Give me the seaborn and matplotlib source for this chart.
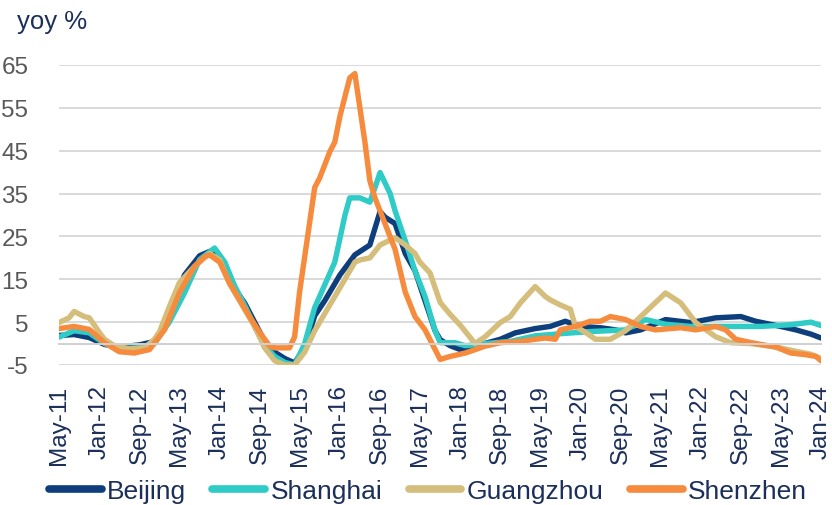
import matplotlib
matplotlib.use("Agg")
import matplotlib.pyplot as plt
import numpy as np
import pandas as pd
import seaborn as sns

# Year-on-year new home price growth, first-tier cities (month offset from May-2011, yoy %)
beijing_months = [0, 3, 6, 9, 12, 16, 19, 22, 25, 28, 30, 32, 34, 37, 39, 41, 43, 45, 47, 49,
                  51, 53, 56, 59, 62, 64, 65, 67, 69, 71, 73, 75, 76, 78, 80, 83, 88, 91, 95, 98,
                  101, 104, 108, 111, 113, 116, 121, 126, 131, 136, 139, 144, 147, 150, 152]
beijing_values = [1.9, 2.1, 1.4, -0.2, -0.8, -0.3, 0.5, 6, 16, 20.5, 21.5, 20, 14.5, 9.5, 5, 0.5, -2, -3.5, -4.5, -1,
                  6.5, 10, 16, 20.7, 23, 30.8, 29.5, 28, 21, 17, 10, 3, 0.9, -0.5, -1.4, -0.6, 1, 2.5, 3.5, 4,
                  5.2, 4, 3.7, 3.2, 2.5, 3.2, 5.6, 4.9, 6, 6.3, 5.2, 4, 3.2, 2.2, 1.3]

shanghai_months = [0, 3, 6, 9, 12, 16, 19, 22, 25, 28, 31, 33, 35, 37, 39, 41, 43, 45, 47, 49,
                   51, 55, 57, 58, 60, 62, 63, 64, 66, 67, 69, 71, 73, 75, 76, 79, 81, 85, 90, 95,
                   100, 106, 113, 117, 121, 126, 131, 140, 146, 150, 152]
shanghai_values = [1.5, 3, 2.5, 0, -1.2, -1, 0, 5, 11.8, 19.6, 22.3, 19, 13.5, 9, 4, -0.5, -3, -4.4, -5, 0,
                   8.4, 19, 30, 34, 34, 33, 36.4, 39.9, 35, 31, 24, 17, 11, 3, 0.2, 0.2, -0.5, 0, 0.5, 1.8,
                   2.3, 2.8, 3.2, 5.6, 4.5, 4, 4, 4, 4.4, 5, 4.2]

guangzhou_months = [0, 2, 3, 5, 6, 8, 9, 11, 14, 17, 19, 20, 22, 24, 27, 30, 32, 34, 37, 39,
                    41, 43, 45, 47, 49, 51, 53, 56, 59, 60, 62, 64, 67, 69, 71, 72, 74, 76, 78, 80,
                    83, 85, 88, 90, 92, 95, 97, 98, 100, 102, 103, 105, 107, 110, 113, 116, 121, 124,
                    127, 131, 134, 138, 143, 147, 150, 152]
guangzhou_values = [4.9, 6, 7.5, 6.3, 6, 2.6, 1, -0.5, -1.2, -1, 1, 2.8, 8.6, 14.2, 18, 21, 19.5, 14, 8, 4,
                    -1, -4, -5, -5, -2, 3, 7, 13, 19, 19.5, 20, 23, 24.7, 23, 21, 19, 16.5, 9.6, 6.8, 4.3,
                    0, 1.6, 4.9, 6.3, 9.5, 13.3, 11, 10.2, 9, 8, 4, 2.6, 1, 1, 3, 6.3, 11.8, 9.5,
                    4.9, 1.6, 0.2, 0, -0.8, -1.8, -2.5, -3.5]

shenzhen_months = [0, 3, 6, 9, 12, 15, 18, 21, 24, 27, 29, 30, 32, 34, 36, 38, 40, 42, 43, 46,
                   47, 48, 51, 52, 54, 55, 56, 58, 59, 61, 62, 63, 65, 67, 69, 71, 73, 76, 78, 81,
                   85, 88, 92, 95, 97, 99, 100, 103, 106, 108, 110, 113, 116, 119, 124, 127, 131, 133,
                   135, 139, 143, 146, 149, 151, 152]
shenzhen_values = [3.5, 4, 3.3, 0.2, -1.9, -2.2, -1.4, 3.3, 11.8, 18, 20.3, 20.7, 19, 14.2, 10.3, 6.3, 2.6, -0.6, -1, -1,
                   1.6, 12, 36.4, 38.7, 44.8, 47, 53, 62, 63, 47, 38, 34, 28, 22, 12, 6.3, 3.2, -3.7, -3, -2.2,
                   -0.6, 0.2, 0.5, 1, 1.3, 1, 3.2, 4, 5.2, 5.2, 6.3, 5.6, 4, 3.2, 3.7, 3.2, 4, 3.2,
                   1, 0, -0.8, -2.2, -2.6, -3, -4]

city_names = ["Beijing", "Shanghai", "Guangzhou", "Shenzhen"]
city_colors = ["#0E3F7C", "#2ECBC7", "#D5BD7B", "#F68B3D"]

y_ticks = [-5, 5, 15, 25, 35, 45, 55, 65]
x_tick_step = 8  # months between date labels

start = pd.Timestamp("2011-05-01")
end = pd.Timestamp("2024-01-01")


def to_dates(offsets):
    return [start + pd.DateOffset(months=int(m)) for m in offsets]


frames = []
for name, months, values in [
    ("Beijing", beijing_months, beijing_values),
    ("Shanghai", shanghai_months, shanghai_values),
    ("Guangzhou", guangzhou_months, guangzhou_values),
    ("Shenzhen", shenzhen_months, shenzhen_values),
]:
    frames.append(pd.DataFrame({"date": to_dates(months), "yoy": values, "city": name}))
df = pd.concat(frames, ignore_index=True)

sns.set_theme(style="white")
plt.rcParams["font.family"] = ["Liberation Sans", "DejaVu Sans"]
plt.rcParams["axes.unicode_minus"] = False

navy_text = "#1B2F5A"
grey_text = "#595959"

fig = plt.figure(figsize=(8.32, 5.06), dpi=100)
ax = fig.add_axes([59 / 832, 140 / 506, 762 / 832, 300 / 506])

sns.lineplot(data=df, x="date", y="yoy", hue="city", hue_order=city_names,
             palette=city_colors, linewidth=3.9, ax=ax, legend=False,
             solid_capstyle="round", solid_joinstyle="round")

ax.set_xlim(start, end)
ax.set_ylim(-5, 65)
ax.set_yticks(y_ticks)
ax.yaxis.grid(True, color="#D9D9D9", linewidth=1.4)
ax.xaxis.grid(False)
for s in ["top", "right", "left"]:
    ax.spines[s].set_visible(False)
ax.set_xlabel("")
ax.set_ylabel("")

# zero line carries the tick marks; labels sit on a secondary axis at the bottom
tick_dates = pd.date_range(start, end, freq=f"{x_tick_step}MS")
ax.spines["bottom"].set_position(("data", 0))
ax.spines["bottom"].set_color("#D0D0D0")
ax.spines["bottom"].set_linewidth(1.4)
ax.set_xticks(tick_dates)
ax.tick_params(axis="x", direction="out", length=8, width=1.4, color="#D0D0D0",
               labelbottom=False)
ax.tick_params(axis="y", length=0, labelsize=17.5, labelcolor=grey_text, pad=22)

sec = ax.secondary_xaxis("bottom")
sec.set_xticks(tick_dates)
sec.set_xticklabels([d.strftime("%b-%y") for d in tick_dates], rotation=90,
                    fontsize=17.5, color=navy_text)
sec.tick_params(axis="x", length=0, pad=14)
sec.spines["bottom"].set_visible(False)

fig.text(17 / 832, 1 - 22 / 506, "yoy %", fontsize=18.5, color=navy_text,
         ha="left", va="center")

handles = [plt.Line2D([], [], color=c, linewidth=5.5, solid_capstyle="round") for c in city_colors]
leg = fig.legend(handles, city_names, loc="center", ncol=4,
                 bbox_to_anchor=(428 / 832, 1 - 492 / 506), frameon=False,
                 fontsize=19, handlelength=2.0, handletextpad=0.2, columnspacing=1.0,
                 borderpad=0, borderaxespad=0)
for t in leg.get_texts():
    t.set_color(navy_text)

fig.savefig("out.png", dpi=100)
